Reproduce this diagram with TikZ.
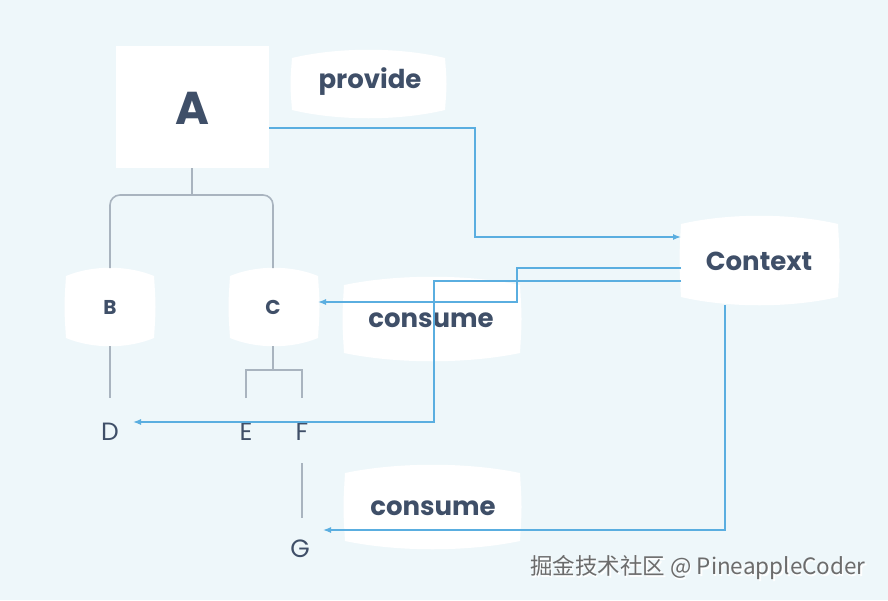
\documentclass[tikz,border=0pt]{standalone}
\usepackage{fontspec}
\setmainfont{Poppins}
\newfontfamily\cjk{Noto Sans CJK SC}
\definecolor{bg}{HTML}{EEF7FA}
\definecolor{ink}{HTML}{3F4F68}
\definecolor{tree}{HTML}{A9B4BF}
\definecolor{link}{HTML}{5AAEE0}
\usetikzlibrary{arrows.meta}
\newcommand{\blobshape}[4]{% x1 y1 x2 y2
  \fill[white] (#1,#2+8) .. controls ({#1+(#3-#1)*0.3},#2-3) and ({#1+(#3-#1)*0.7},#2-3) .. (#3,#2+8)
    .. controls (#3+2,{(#2+#4)/2}) .. (#3,#4-8) .. controls ({#1+(#3-#1)*0.7},#4+3) and ({#1+(#3-#1)*0.3},#4+3) .. (#1,#4-8)
    .. controls (#1-2,{(#2+#4)/2}) .. cycle;}
\tikzset{
  lbl/.style={text=ink,font=\bfseries,inner sep=0pt},
  leaf/.style={text=ink,font=\fontsize{25}{25}\selectfont,inner sep=0pt},
  treeline/.style={draw=tree,line width=1.6pt},
  flow/.style={draw=link,line width=1.3pt,-{Latex[length=8pt,width=6pt]}},
}
\begin{document}
\begin{tikzpicture}[x=1pt,y=-1pt]
\fill[bg] (0,0) rectangle (888,600);
\useasboundingbox (0,0) rectangle (888,600);
\fill[white] (116,46) rectangle (269,168);
\blobshape{292}{50}{445}{118}
\blobshape{66}{268}{154}{346}
\blobshape{230}{268}{318}{346}
\blobshape{344}{277}{520}{361}
\blobshape{681}{216}{838}{305}
\blobshape{345}{465}{520}{549}
\node[lbl,font=\bfseries\fontsize{46}{46}\selectfont] (A) at (192,108) {A};
\coordinate (Ar) at (269,128);
\coordinate (Ab) at (192,168);
\node[lbl,font=\bfseries\fontsize{26}{26}\selectfont] (prov) at (370,82) {provide};
\node[lbl,font=\bfseries\fontsize{20}{20}\selectfont] (B) at (110,307) {B};
\node[lbl,font=\bfseries\fontsize{20}{20}\selectfont] (C) at (273,307) {C};
\node[lbl,font=\bfseries\fontsize{26}{26}\selectfont] (cons1) at (431,320) {consume};
\node[lbl,font=\bfseries\fontsize{26}{26}\selectfont] (ctx) at (759,261) {Context};
\node[lbl,font=\bfseries\fontsize{26}{26}\selectfont] (cons2) at (433,508) {consume};
\node[leaf] (D) at (110,432) {D};
\node[leaf] (E) at (246,432) {E};
\node[leaf] (F) at (302,432) {F};
\node[leaf] (G) at (300,549) {G};
\coordinate (Bt) at (110,268); \coordinate (Bb) at (110,346);
\coordinate (Ct) at (273,268); \coordinate (Cb) at (273,346);
\draw[treeline] (Ab) -- (192,195);
\draw[treeline,rounded corners=10pt] (Bt) -- (110,195) -- (273,195) -- (Ct);
\draw[treeline] (Bb) -- (110,398);
\draw[treeline] (Cb) -- (273,370);
\draw[treeline] (246,398) -- (246,370) -- (302,370) -- (302,398);
\draw[treeline] (302,463) -- (302,518);
\draw[flow] (Ar) -- (475,128) -- (475,237) -- (681,237);
\draw[flow] (681,268) -- (517,268) -- (517,302) -- (318,302);
\draw[flow] (681,281) -- (434,281) -- (434,422) -- (133,422);
\draw[flow] (725,305) -- (725,530) -- (323,530);
\node[text=white,font=\cjk\fontsize{22.5}{22.5}\selectfont,inner sep=0pt] (wm) at (699.5,569.5) {掘金技术社区 @ PineappleCoder};
\node[text=gray!85!black,font=\cjk\fontsize{22.5}{22.5}\selectfont,inner sep=0pt] (wm2) at (698,568) {掘金技术社区 @ PineappleCoder};
\end{tikzpicture}
\end{document}
